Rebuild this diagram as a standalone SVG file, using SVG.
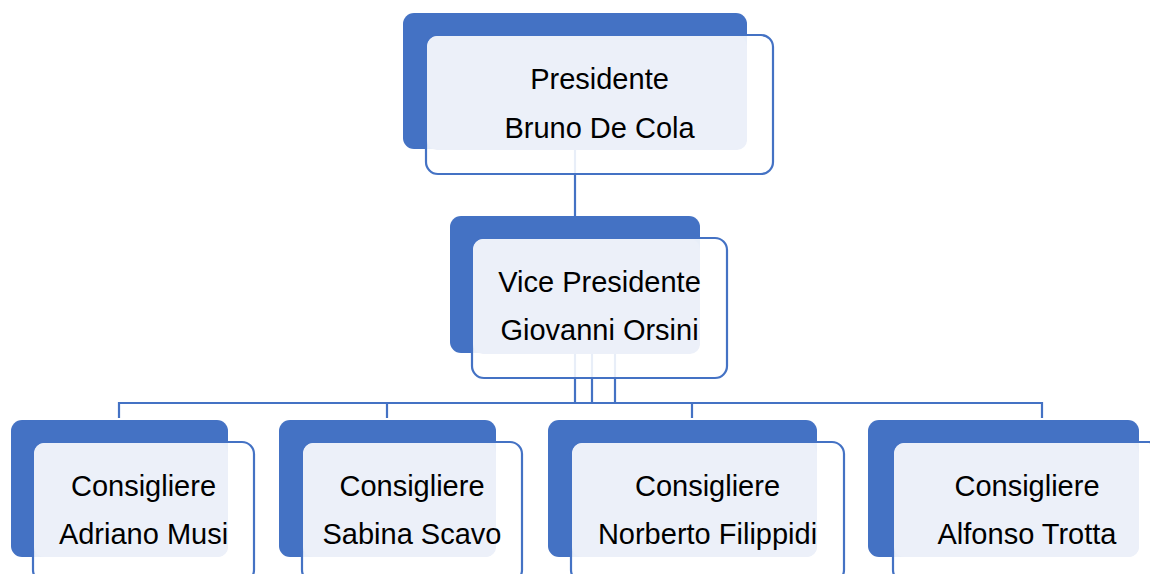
<svg xmlns="http://www.w3.org/2000/svg" width="1150" height="574" viewBox="0 0 1150 574">
<style>
.dark{fill:#4472C4;}
.outl{fill:#FFFFFF;fill-opacity:0.88;stroke:#4472C4;stroke-width:2.2;}
.lite{fill:#ECF0F9;}
.con{fill:none;stroke:#4472C4;stroke-width:2.2;}
text{font-family:"Liberation Sans",Arial,sans-serif;font-size:29px;fill:#000;text-anchor:middle;}
</style>
<rect width="1150" height="574" fill="#FFFFFF"/>
<g id="connectors">
<line class="con" x1="575" y1="150" x2="575" y2="217"/>
<line class="con" x1="575" y1="354" x2="575" y2="403"/>
<line class="con" x1="592" y1="354" x2="592" y2="403"/>
<line class="con" x1="615" y1="354" x2="615" y2="403"/>
<polyline class="con" points="119,418 119,403 1042,403 1042,418"/>
<line class="con" x1="387" y1="403" x2="387" y2="418"/>
<line class="con" x1="692" y1="403" x2="692" y2="418"/>
</g>
<g id="presidente">
<rect class="dark" x="403" y="13" width="344" height="136" rx="11"/>
<rect class="outl" x="426" y="35" width="347" height="139" rx="12"/>
<rect class="lite" x="427" y="36" width="320" height="114" rx="10"/>
<text x="599.5" y="89">Presidente</text>
<text x="599.5" y="138">Bruno De Cola</text>
</g>
<g id="vicepresidente">
<rect class="dark" x="450" y="216" width="250" height="137" rx="11"/>
<rect class="outl" x="472" y="238" width="255" height="140" rx="12"/>
<rect class="lite" x="473" y="239" width="227" height="115" rx="10"/>
<text x="599.5" y="292">Vice Presidente</text>
<text x="599.5" y="340">Giovanni Orsini</text>
</g>
<g id="consigliere1">
<rect class="dark" x="11" y="420" width="217" height="137" rx="11"/>
<rect class="outl" x="33" y="442" width="221" height="140" rx="12"/>
<rect class="lite" x="34" y="443" width="194" height="114" rx="10"/>
<text x="143.5" y="496">Consigliere</text>
<text x="143.5" y="544">Adriano Musi</text>
</g>
<g id="consigliere2">
<rect class="dark" x="279" y="420" width="217" height="137" rx="11"/>
<rect class="outl" x="302" y="442" width="220" height="140" rx="12"/>
<rect class="lite" x="303" y="443" width="193" height="114" rx="10"/>
<text x="412" y="496">Consigliere</text>
<text x="412" y="544">Sabina Scavo</text>
</g>
<g id="consigliere3">
<rect class="dark" x="548" y="420" width="269" height="137" rx="11"/>
<rect class="outl" x="571" y="442" width="273" height="140" rx="12"/>
<rect class="lite" x="572" y="443" width="245" height="114" rx="10"/>
<text x="707.5" y="496">Consigliere</text>
<text x="707.5" y="544">Norberto Filippidi</text>
</g>
<g id="consigliere4">
<rect class="dark" x="868" y="420" width="271" height="137" rx="11"/>
<rect class="outl" x="893" y="442" width="268" height="140" rx="12"/>
<rect class="lite" x="894" y="443" width="245" height="114" rx="10"/>
<text x="1027" y="496">Consigliere</text>
<text x="1027" y="544">Alfonso Trotta</text>
</g>
</svg>
